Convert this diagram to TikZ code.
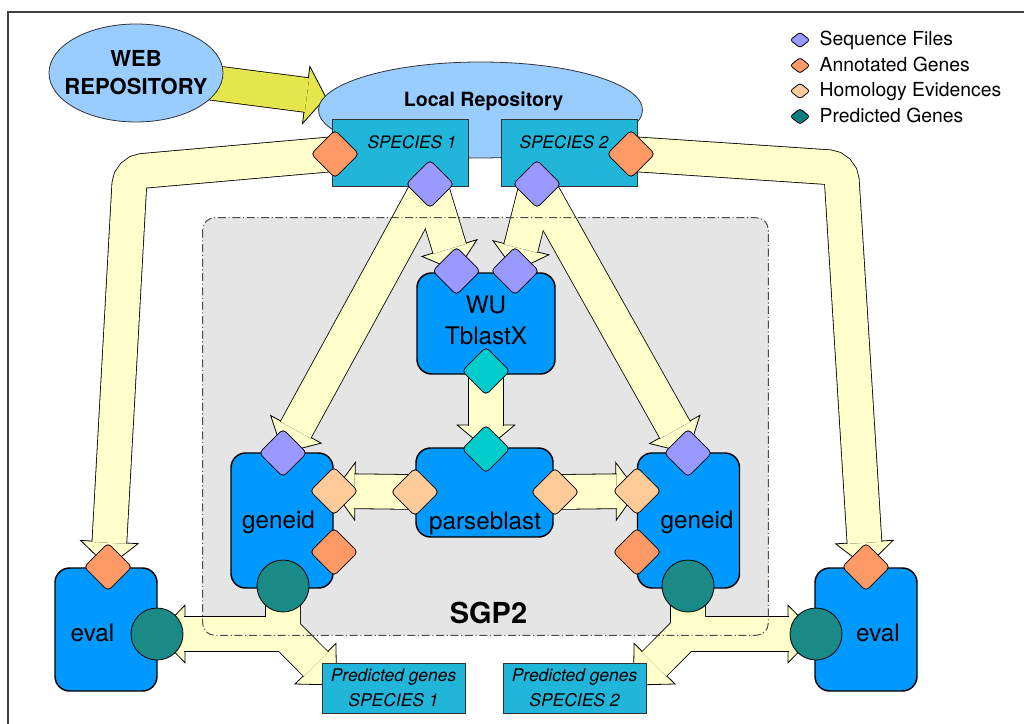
\documentclass[tikz,border=0pt]{standalone}
\usepackage{fontspec}
\setmainfont{TeX Gyre Heros}
\usetikzlibrary{shapes.geometric,calc}
\pgfdeclarelayer{bgl}
\pgfdeclarelayer{heads}
\pgfdeclarelayer{souter}
\pgfdeclarelayer{sinner}
\pgfdeclarelayer{borderl}
\pgfsetlayers{bgl,heads,souter,sinner,borderl,main}
\definecolor{lightblue}{HTML}{99CCFF}
\definecolor{boxcyan}{HTML}{22B5DA}
\definecolor{procblue}{HTML}{0099FF}
\definecolor{seqpurple}{HTML}{9999FF}
\definecolor{annorange}{HTML}{FF9966}
\definecolor{hompeach}{HTML}{FFCC99}
\definecolor{blastteal}{HTML}{00CCCC}
\definecolor{predteal}{HTML}{1A8A86}
\definecolor{legteal}{HTML}{0A7F7B}
\definecolor{arrowyellow}{HTML}{FFFFCC}
\definecolor{webyellow}{HTML}{E5E54C}
\definecolor{sgpgray}{HTML}{E5E5E5}
\newcommand\fs[2]{\fontsize{#1}{#2}\selectfont}
\newcommand\hwd{21.6pt}
% #1 colour, #2 head length (pt), #3 path up to the head (ending with --), #4 point before head, #5 tip
\newcommand\fatarrow[5]{%
  \pgfmathsetmacro\hlx{#2-0.6}%
  \path ($(#5)!#2pt!(#4)$) coordinate (hb) ($(#5)!\hlx pt!(#4)$) coordinate (hbx);
  \begin{pgfonlayer}{heads}
    \filldraw[fill=#1, draw=black, line width=0.6pt, line join=miter]
      (#5) -- ($(hb)!\hwd!90:(#5)$) -- ($(hb)!\hwd!-90:(#5)$) -- cycle;
  \end{pgfonlayer}
  \begin{pgfonlayer}{souter}
    \draw[line width=26.7pt, black] #3 (hbx);
  \end{pgfonlayer}
  \begin{pgfonlayer}{sinner}
    \draw[line width=25.5pt, #1] #3 (hbx);
  \end{pgfonlayer}}
\begin{document}
\begin{tikzpicture}[x=0.75pt,y=-0.75pt,
  diam/.style={diamond, aspect=1, minimum width=36pt, minimum height=36pt, inner sep=0pt, rounded corners=3pt, draw=black, line width=0.6pt},
  seq/.style={diam, fill=seqpurple},
  ann/.style={diam, fill=annorange},
  hom/.style={diam, fill=hompeach},
  blo/.style={diam, fill=blastteal},
  pred/.style={circle, minimum size=39pt, inner sep=0pt, draw=black, line width=0.6pt, fill=predteal},
  proc/.style={rectangle, rounded corners=11pt, draw=black, line width=1.1pt, fill=procblue, inner sep=0pt},
  sbox/.style={rectangle, draw=black!80, line width=0.6pt, fill=boxcyan, inner sep=1pt},
  repo/.style={ellipse, draw=black!80, line width=0.6pt, fill=lightblue, inner sep=0pt},
  legd/.style={diamond, minimum width=15pt, minimum height=12pt, inner sep=0pt, rounded corners=2pt, draw=black, line width=0.6pt},
  ptext/.style={anchor=base, font=\fs{18.2}{22}},
  ltext/.style={anchor=base west, font=\fs{14.5}{17}}
]
\useasboundingbox (0,0) rectangle (1024,724);
\begin{pgfonlayer}{bgl}
  \fill[white] (0,0) rectangle (1024,724);
\end{pgfonlayer}
\draw[line width=0.9pt, black!75] (8,724) -- (8,12) -- (1024,12);

% SGP2 region
\node[minimum width=423.75pt, minimum height=312.75pt, inner sep=0pt] (sgp) at (485.5,426.5) {};
\begin{pgfonlayer}{bgl}
  \fill[sgpgray, rounded corners=9pt] (sgp.north west) rectangle (sgp.south east);
\end{pgfonlayer}
\begin{pgfonlayer}{borderl}
  \draw[black!70, line width=0.75pt, dash pattern=on 6pt off 2pt on 0.8pt off 2pt, rounded corners=9pt] (sgp.north west) rectangle (sgp.south east);
\end{pgfonlayer}
\node[anchor=base, font=\bfseries\fs{21.7}{26}] (sgpt) at (488.5,623) {SGP2};

% repositories
\node[repo, minimum width=130.5pt, minimum height=73.5pt] (web) at (136,73) {};
\node[align=center, font=\bfseries\fs{16.5}{21}] (webt) at (136,72.5) {WEB\\REPOSITORY};
\node[repo, minimum width=243pt, minimum height=72pt] (local) at (480.5,110) {};
\node[anchor=base, font=\bfseries\fs{14.7}{18}] (localt) at (483.5,106) {Local Repository};
\node[sbox, minimum width=102pt, minimum height=50.25pt] (sp1) at (400,152.5) {};
\node[sbox, minimum width=102pt, minimum height=50.25pt] (sp2) at (569,152.5) {};
\node[anchor=base, font=\itshape\fs{12.9}{15}] (sp1t) at (412,148) {SPECIES 1};
\node[anchor=base, font=\itshape\fs{12.9}{15}] (sp2t) at (564,148) {SPECIES 2};
\node[ann] (sp1o) at (335,154) {};
\node[seq] (sp1p) at (430,184) {};
\node[seq] (sp2p) at (537,184) {};
\node[ann] (sp2o) at (631,154) {};

% processes
\node[proc, minimum width=103.5pt, minimum height=75.75pt] (wu) at (486,323.5) {};
\node[align=center, font=\fs{18.2}{23.25}] (wut) at (486,320) {WU\\TblastX};
\node[proc, minimum width=102.75pt, minimum height=66.75pt] (pb) at (484.5,492.5) {};
\node[ptext] (pbtx) at (485,529) {parseblast};
\node[proc, minimum width=76.5pt, minimum height=101.25pt] (g1) at (282,520.5) {};
\node[ptext] (g1t) at (278.5,528) {geneid};
\node[proc, minimum width=76.5pt, minimum height=101.25pt] (g2) at (688.5,520.5) {};
\node[ptext] (g2t) at (697,528) {geneid};
\node[proc, minimum width=76.5pt, minimum height=92.25pt] (e1) at (106,629.5) {};
\node[ptext] (e1t) at (92.5,641) {eval};
\node[proc, minimum width=76.5pt, minimum height=92.25pt] (e2) at (866,629.5) {};
\node[ptext] (e2t) at (878,641) {eval};

% ports
\node[seq] (wu1) at (456.5,271) {};
\node[seq] (wu2) at (515,271) {};
\node[blo] (wuo) at (486,371) {};
\node[blo] (pbi) at (486,449) {};
\node[hom] (pbl) at (415,492) {};
\node[hom] (pbr) at (555,492) {};
\node[seq] (g1p) at (283,453) {};
\node[hom] (g1h) at (334,491) {};
\node[ann] (g1a) at (334,552) {};
\node[seq] (g2p) at (688,453) {};
\node[hom] (g2h) at (637,491) {};
\node[ann] (g2a) at (637,552) {};
\node[ann] (e1a) at (108,567) {};
\node[ann] (e2a) at (866,567) {};
\node[pred] (g1c) at (283,586) {};
\node[pred] (g2c) at (688,586) {};
\node[pred] (e1c) at (157,634) {};
\node[pred] (e2c) at (816,634) {};

% outputs
\node[sbox, minimum width=107.25pt, minimum height=37.5pt, align=center, font=\itshape\fs{13.1}{18.75}] (pr1) at (393.5,688) {Predicted genes\\SPECIES 1};
\node[sbox, minimum width=107.25pt, minimum height=37.5pt, align=center, font=\itshape\fs{13.1}{18.75}] (pr2) at (574.5,688) {Predicted genes\\SPECIES 2};
\coordinate (pr1in) at ($(pr1.west)+(15,-3)$);
\coordinate (pr2in) at ($(pr2.east)+(-13,-3)$);

% legend
\node[legd, fill=seqpurple] (l1) at (800,40) {};
\node[ltext] (l1t) at (815,46) {Sequence Files};
\node[legd, fill=annorange] (l2) at (800,65.5) {};
\node[ltext] (l2t) at (815,71.5) {Annotated Genes};
\node[legd, fill=hompeach] (l3) at (800,91) {};
\node[ltext] (l3t) at (815,97) {Homology Evidences};
\node[legd, fill=legteal] (l4) at (800,116.5) {};
\node[ltext] (l4t) at (815,122.5) {Predicted Genes};

% arrows
\fatarrow{webyellow}{15}{(web.center) --}{web.center}{326,97.5}
\fatarrow{arrowyellow}{18.75}{(sp1o.center) [rounded corners=9.75pt] -- (130,172) --}{130,172}{e1a.center}
\fatarrow{arrowyellow}{18.75}{(sp2o.center) [rounded corners=9.75pt] -- (841,168) --}{841,168}{e2a.center}
\fatarrow{arrowyellow}{20.25}{(sp1p.center) --}{sp1p.center}{g1p.center}
\fatarrow{arrowyellow}{18}{(sp1p.center) --}{sp1p.center}{wu1.center}
\fatarrow{arrowyellow}{18}{(sp2p.center) --}{sp2p.center}{wu2.center}
\fatarrow{arrowyellow}{20.25}{(sp2p.center) --}{sp2p.center}{g2p.center}
\fatarrow{arrowyellow}{18}{(wuo.center) --}{wuo.center}{pbi.center}
\fatarrow{arrowyellow}{15.75}{(pbl.center) --}{pbl.center}{g1h.center}
\fatarrow{arrowyellow}{15.75}{(pbr.center) --}{pbr.center}{g2h.center}
\fatarrow{arrowyellow}{21}{(g1c.center) -- (283,634) --}{283,634}{e1c.center}
\fatarrow{arrowyellow}{22.5}{(g1c.center) -- (283,631) --}{283,631}{pr1in}
\fatarrow{arrowyellow}{21}{(g2c.center) -- (688,634) --}{688,634}{e2c.center}
\fatarrow{arrowyellow}{22.5}{(g2c.center) -- (688,630) --}{688,630}{pr2in}
\end{tikzpicture}
\end{document}
